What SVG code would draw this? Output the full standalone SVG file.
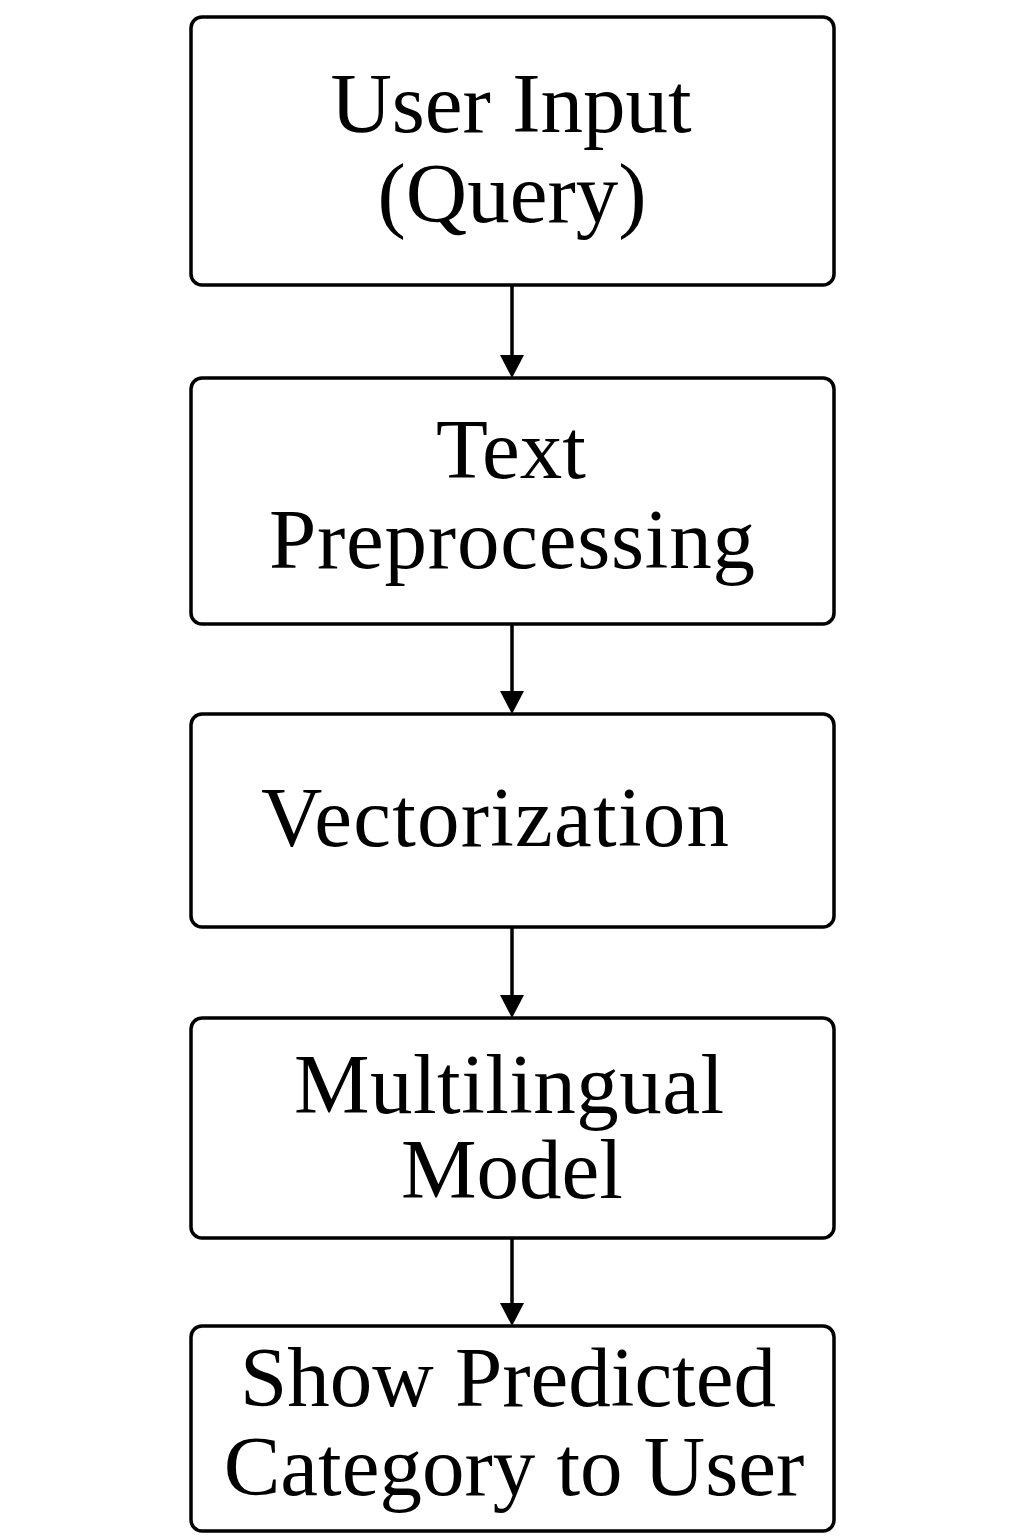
<svg xmlns="http://www.w3.org/2000/svg" width="1024" height="1536" viewBox="0 0 1024 1536">
<defs>
<style>
.box{fill:#fff;stroke:#000;stroke-width:3.5}
.t{font-family:"Liberation Serif","Times New Roman",serif;font-size:85px;fill:#000;text-anchor:middle}
.c{stroke:#000;stroke-width:3.5;fill:none}
</style>
<marker id="ah" viewBox="0 0 23 24" refX="1" refY="12" markerWidth="23" markerHeight="24" markerUnits="userSpaceOnUse" orient="auto">
<path d="M0 0 L23 12 L0 24 Z" fill="#000"/>
</marker>
</defs>
<rect width="1024" height="1536" fill="#fff"/>
<g id="connectors">
<line class="c" x1="512" y1="285" x2="512" y2="356" marker-end="url(#ah)"/>
<line class="c" x1="512" y1="624" x2="512" y2="692" marker-end="url(#ah)"/>
<line class="c" x1="512" y1="927" x2="512" y2="996" marker-end="url(#ah)"/>
<line class="c" x1="512" y1="1238" x2="512" y2="1304" marker-end="url(#ah)"/>
</g>
<g id="n1">
<rect class="box" x="191" y="17" width="643" height="268" rx="11"/>
<text class="t" x="511" y="132">User Input</text>
<text class="t" x="512" y="222">(Query)</text>
</g>
<g id="n2">
<rect class="box" x="191" y="378" width="643" height="246" rx="11"/>
<text class="t" x="511" y="478">Text</text>
<text class="t" x="512" y="568" textLength="486" lengthAdjust="spacing">Preprocessing</text>
</g>
<g id="n3">
<rect class="box" x="191" y="714" width="643" height="213" rx="11"/>
<text class="t" x="495" y="846" textLength="468" lengthAdjust="spacing">Vectorization</text>
</g>
<g id="n4">
<rect class="box" x="191" y="1018" width="643" height="220" rx="11"/>
<text class="t" x="509" y="1113" textLength="430" lengthAdjust="spacing">Multilingual</text>
<text class="t" x="512" y="1198">Model</text>
</g>
<g id="n5">
<rect class="box" x="191" y="1326" width="643" height="205" rx="11"/>
<text class="t" x="508" y="1406">Show Predicted</text>
<text class="t" x="514" y="1495">Category to User</text>
</g>
</svg>
